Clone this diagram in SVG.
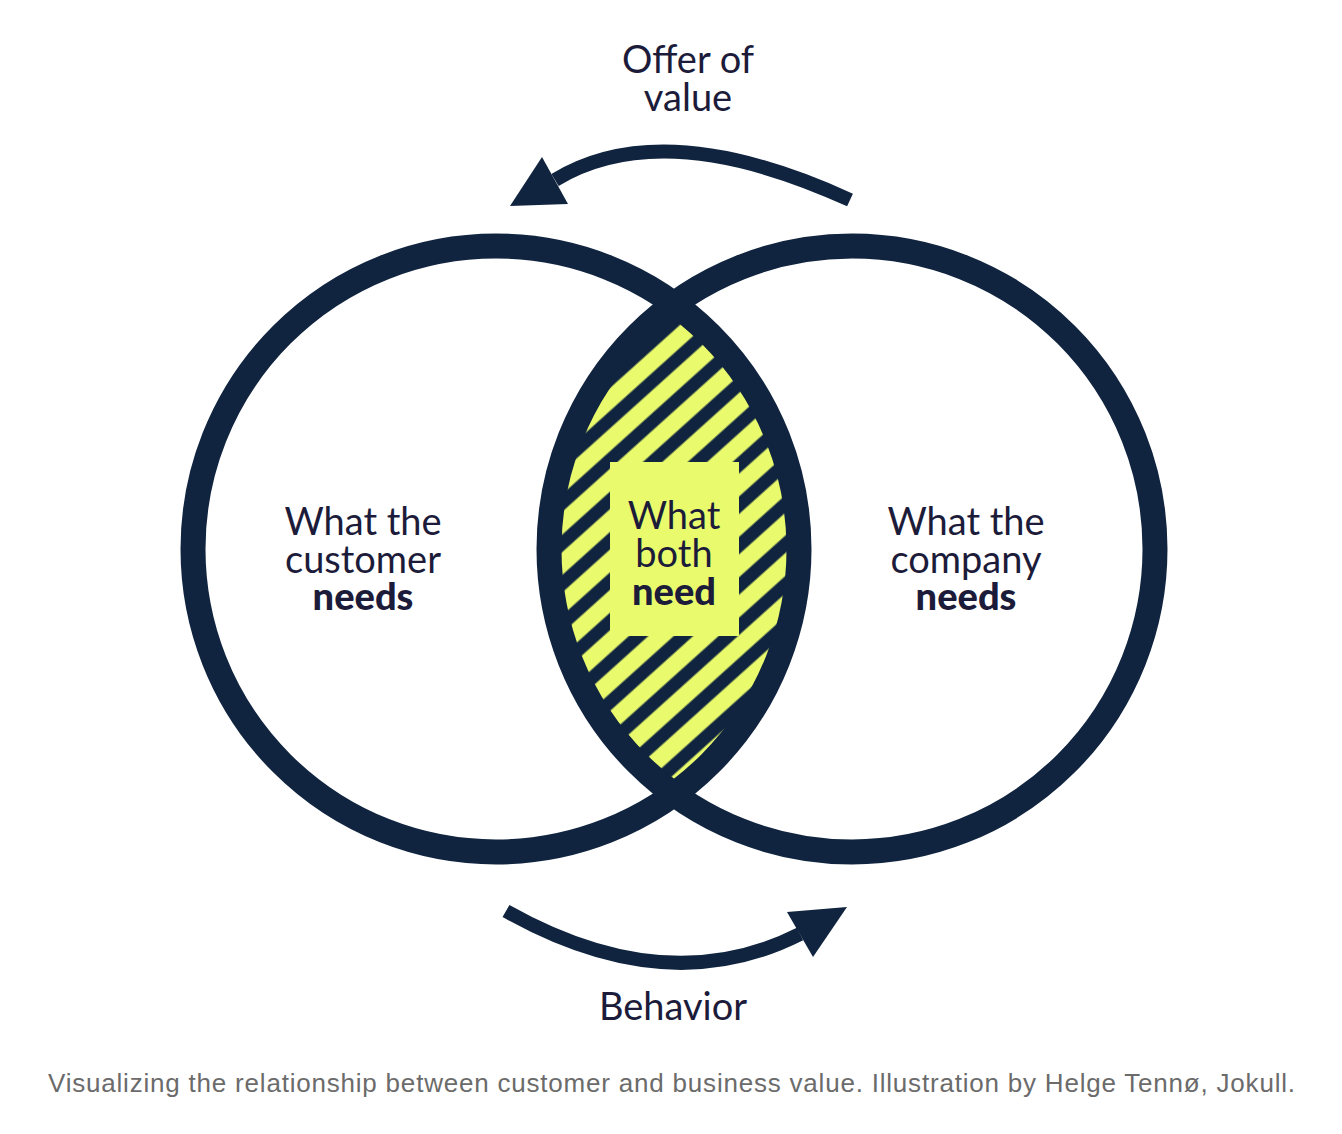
<svg xmlns="http://www.w3.org/2000/svg" width="1342" height="1134" viewBox="0 0 1342 1134">
<style>
.lbl{font-family:Lato,"Open Sans","Liberation Sans",sans-serif;font-size:38px;fill:#1c1c3a;text-anchor:middle}
.b{font-weight:900}
.ring{fill:none;stroke:#10243f;stroke-width:25}
.arrow{fill:none;stroke:#10243f;stroke-width:14}
.head{fill:#10243f}
.cap{font-family:"Liberation Sans",Arial,sans-serif;font-size:26px;fill:#6b6b6b}
</style>
<defs>
<pattern id="stripes" patternUnits="userSpaceOnUse" width="60" height="30" patternTransform="rotate(-42)">
<rect x="0" y="0" width="60" height="30" fill="#e9fb6d"/>
<rect x="0" y="0" width="60" height="6.5" fill="#10243f"/>
<rect x="0" y="23.5" width="60" height="6.5" fill="#10243f"/>
</pattern>
</defs>
<rect width="1342" height="1134" fill="#ffffff"/>
<g id="lens">
<path d="M674 303.8 A303 303 0 0 1 674 794.2 A303 303 0 0 1 674 303.8 Z" fill="url(#stripes)"/>
<rect x="610" y="462" width="129" height="174" fill="#e9fb6d"/>
</g>
<g id="customer">
<circle class="ring" cx="496" cy="549" r="303"/>
<text class="lbl" x="363" y="535">What the<tspan x="363" dy="38">customer</tspan><tspan class="b" x="363" dy="37">needs</tspan></text>
</g>
<g id="company">
<circle class="ring" cx="852" cy="549" r="303"/>
<text class="lbl" x="966" y="535">What the<tspan x="966" dy="38">company</tspan><tspan class="b" x="966" dy="37">needs</tspan></text>
</g>
<g id="both">
<text class="lbl" x="674" y="529">What<tspan x="674" dy="38">both</tspan><tspan class="b" x="674" dy="38">need</tspan></text>
</g>
<g id="connectors">
<path class="arrow" d="M850 200 Q663 114.5 555 180"/>
<polygon class="head" points="510,206 542,157 568,204"/>
<path class="arrow" d="M506 911 Q666.5 1001.5 800 934"/>
<polygon class="head" points="787,912 847,907 813,957"/>
</g>
<g id="offer">
<text class="lbl" x="688" y="73">Offer of<tspan x="688" dy="38">value</tspan></text>
</g>
<g id="behavior">
<text class="lbl" x="673" y="1020">Behavior</text>
</g>
<text class="cap" x="48" y="1092" textLength="1247">Visualizing the relationship between customer and business value. Illustration by Helge Tennø, Jokull.</text>
</svg>
